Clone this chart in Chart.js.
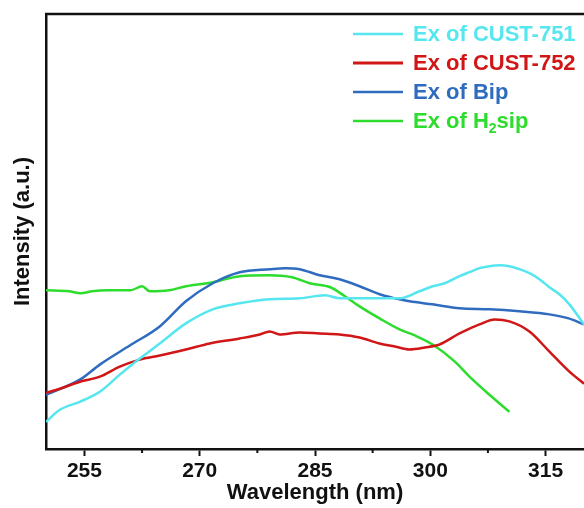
<!DOCTYPE html>
<html>
<head>
<meta charset="utf-8">
<script src="https://cdn.jsdelivr.net/npm/chart.js@4/dist/chart.umd.min.js"></script>
<style>
  html, body { margin: 0; padding: 0; background: #fff; }
  #wrap { width: 584px; height: 508px; position: relative; }
</style>
</head>
<body>
<div id="wrap"><canvas id="chart"></canvas></div>
<script>
// excitation spectra (intensity in arbitrary units)
const labels = ["Ex of CUST-751", "Ex of CUST-752", "Ex of Bip", "Ex of H₂sip"];
const colors = ["#55e6ef", "#d01616", "#2f6cc0", "#2ddc2d"];

const cust751Wl = [250, 251.8, 254.4, 257, 259.6, 262.2, 264.8, 268.2, 271.7, 275.2, 279.1, 283, 286.3, 288.2, 292.1, 296, 298.6, 300.3, 301.9, 303.8, 305.1, 306.4, 307.7, 309, 310.3, 311.6, 312.9, 314.2, 315.5, 316.8, 318.1, 320];
const cust751 = [27, 39, 47, 57, 74, 90, 105, 125, 139, 145, 149, 150, 153, 150, 150, 150, 157, 162, 165, 172, 176, 180, 182, 183, 182, 179, 175, 169, 161, 154, 144, 124];

const cust752Wl = [250, 251.8, 254.4, 257, 259.6, 262.2, 264.8, 268.2, 271.3, 275.2, 277.8, 279.1, 280.4, 283, 285.6, 288.2, 290.8, 293.4, 295.4, 297.3, 299.3, 301.2, 303.8, 306.4, 308.4, 310.3, 312.9, 315.5, 318.1, 320];
const cust752 = [56, 60, 67, 72, 82, 89, 93, 99, 105, 110, 114, 117, 114, 116, 115, 114, 111, 105, 102, 99, 101, 104, 115, 124, 129, 127, 117, 97, 77, 65];

const bipWl = [250, 254.4, 257, 260.9, 264.8, 268.2, 271.7, 275.2, 279.1, 281.1, 283, 285.6, 288.2, 290.8, 293.4, 295.4, 297.3, 300.3, 303.8, 307.7, 311.6, 315.5, 318, 320];
const bip = [54, 69, 84, 103, 122, 147, 165, 176, 179, 180, 179, 173, 169, 162, 154, 150, 147, 144, 140, 139, 137, 134, 130, 124];

const h2sipWl = [250, 253, 254.5, 256, 258, 261, 262.5, 263.5, 266, 268.2, 271.7, 275.2, 279, 282, 284.3, 287, 288.9, 290.8, 293.4, 296, 298, 300.3, 303.2, 305.1, 307.7, 310.3];
const h2sip = [158, 157, 155, 157, 158, 158, 162, 157, 158, 162, 166, 172, 173, 171, 165, 161, 152, 142, 130, 119, 113, 104, 87, 72, 54, 37];

const xTicks = [255, 270, 285, 300, 315];
const xMinor = [262.5, 277.5, 292.5, 307.5];

const series = [[cust751Wl, cust751], [cust752Wl, cust752], [bipWl, bip], [h2sipWl, h2sip]];

const FONT = "'Liberation Sans', Arial, sans-serif";

// frame top line, minor ticks and the in-plot legend
const extras = {
  id: "extras",
  afterDraw(chart) {
    const c = chart.ctx, a = chart.chartArea, xs = chart.scales.x;
    c.save();
    c.strokeStyle = "#111";
    c.lineWidth = 2.5;
    c.beginPath();
    c.moveTo(a.left - 1, a.top);
    c.lineTo(a.right, a.top);
    c.stroke();
    c.lineWidth = 2;
    xMinor.forEach(v => {
      const px = xs.getPixelForValue(v);
      c.beginPath();
      c.moveTo(px, a.bottom);
      c.lineTo(px, a.bottom + 4);
      c.stroke();
    });

    // legend
    const x0 = 353, lineLen = 50, rowY = [34, 63, 92, 121];
    chart.data.datasets.forEach((ds, i) => {
      const y = rowY[i];
      c.strokeStyle = ds.borderColor;
      c.lineWidth = i === 1 ? 3 : 2.5;
      c.beginPath();
      c.moveTo(x0, y);
      c.lineTo(x0 + lineLen, y);
      c.stroke();
      c.fillStyle = ds.borderColor;
      c.textBaseline = "middle";
      let tx = x0 + lineLen + 10;
      const parts = ds.label.split("₂");
      parts.forEach((p, k) => {
        c.font = "bold 22px " + FONT;
        c.fillText(p, tx, y + 1);
        tx += c.measureText(p).width;
        if (k < parts.length - 1) {
          c.font = "bold 14px " + FONT;
          c.fillText("2", tx, y + 8);
          tx += c.measureText("2").width;
        }
      });
    });
    c.restore();
  }
};

new Chart(document.getElementById("chart"), {
  type: "line",
  data: {
    datasets: labels.map((lab, i) => ({
      label: lab,
      data: series[i][0].map((w, k) => ({ x: w, y: series[i][1][k] })),
      borderColor: colors[i],
      borderWidth: 2.5,
      pointRadius: 0,
      cubicInterpolationMode: "monotone",
      fill: false
    }))
  },
  options: {
    responsive: true,
    maintainAspectRatio: false,
    animation: false,
    layout: { padding: { top: 14, left: 0, right: 0, bottom: 0 } },
    plugins: { legend: { display: false }, tooltip: { enabled: false } },
    scales: {
      x: {
        type: "linear",
        min: 250,
        max: 320,
        afterBuildTicks: s => { s.ticks = xTicks.map(v => ({ value: v })); },
        border: { display: true, color: "#111", width: 2.5 },
        grid: { drawOnChartArea: false, drawTicks: true, tickLength: 7, tickWidth: 2, tickColor: "#111" },
        ticks: { color: "#111", padding: 5, maxRotation: 0, font: { family: FONT, size: 21, weight: "bold", lineHeight: 1 } },
        title: {
          display: true,
          text: "Wavelength (nm)",
          color: "#111",
          padding: { top: -5, bottom: 4 },
          font: { family: FONT, size: 22, weight: "bold", lineHeight: 1 }
        }
      },
      y: {
        min: 0,
        max: 433,
        border: { display: true, color: "#111", width: 2.5 },
        grid: { display: false, drawTicks: false },
        ticks: { display: false },
        title: {
          display: true,
          text: "Intensity (a.u.)",
          color: "#111",
          padding: { top: 12, bottom: 12 },
          font: { family: FONT, size: 22, weight: "bold", lineHeight: 1 }
        }
      }
    }
  },
  plugins: [extras]
});
</script>
</body>
</html>
